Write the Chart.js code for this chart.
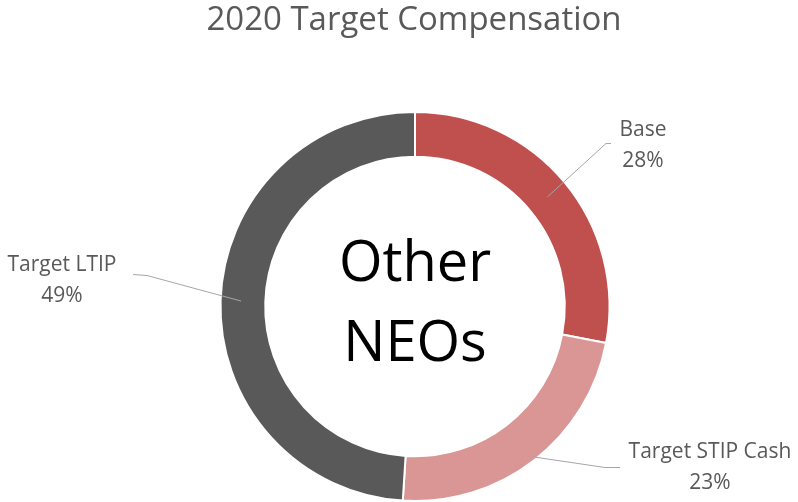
<!DOCTYPE html>
<html>
<head>
<meta charset="utf-8">
<script src="https://cdn.jsdelivr.net/npm/chart.js@4.4.1/dist/chart.umd.min.js"></script>
<style>
  html, body { margin: 0; padding: 0; background: #fff; }
  #wrap { width: 798px; height: 502px; position: relative; }
</style>
</head>
<body>
<div id="wrap"><canvas id="compChart"></canvas></div>
<script>
// Data for the chart
const categories = ["Base", "Target STIP Cash", "Target LTIP"];
const shares = [28, 23, 49];
const sliceColors = ["#c0504d", "#d99694", "#595959"];
const chartTitle = "2020 Target Compensation";
const centerLines = ["Other", "NEOs"];

const FONT = "'Open Sans', sans-serif";
const GREY = "#595959";

// label placement relative to the doughnut centre (text centre, leader points)
const labelSpots = [
  { text: [228, -176], leader: [[196, -163], [191, -163]], r: 172 },
  { text: [295, 146], leader: [[205, 161], [190, 161]], r: 190 },
  { text: [-353, -41], leader: [[-282, -32], [-268, -31]], r: 174 }
];

const extras = {
  id: "extras",
  afterDraw(chart) {
    const ctx = chart.ctx;
    const arcs = chart.getDatasetMeta(0).data;
    const cx = arcs[0].x, cy = arcs[0].y;
    ctx.save();

    // title
    ctx.fillStyle = GREY;
    ctx.textAlign = "center";
    ctx.textBaseline = "middle";
    ctx.font = "33px " + FONT;
    ctx.fillText(chartTitle, 414, 21);

    // centre text
    ctx.fillStyle = "#000";
    ctx.font = "56px " + FONT;
    ctx.fillText(centerLines[0], cx, cy - 41);
    ctx.fillText(centerLines[1], cx, cy + 39);

    // data labels with leader lines
    arcs.forEach((arc, i) => {
      const s = labelSpots[i];
      const a = (arc.startAngle + arc.endAngle) / 2;
      const ax = cx + s.r * Math.cos(a), ay = cy + s.r * Math.sin(a);
      ctx.strokeStyle = "#a6a6a6";
      ctx.lineWidth = 1;
      ctx.beginPath();
      ctx.moveTo(ax, ay);
      ctx.lineTo(cx + s.leader[1][0], cy + s.leader[1][1]);
      ctx.lineTo(cx + s.leader[0][0], cy + s.leader[0][1]);
      ctx.stroke();

      ctx.fillStyle = GREY;
      ctx.font = "21px " + FONT;
      ctx.fillText(categories[i], cx + s.text[0], cy + s.text[1]);
      ctx.fillText(shares[i] + "%", cx + s.text[0], cy + s.text[1] + 31);
    });
    ctx.restore();
  }
};

const config = {
  type: "doughnut",
  data: {
    labels: categories,
    datasets: [{
      data: shares,
      backgroundColor: sliceColors,
      borderColor: "#ffffff",
      borderWidth: 2
    }]
  },
  options: {
    responsive: true,
    maintainAspectRatio: false,
    animation: false,
    cutout: "77%",
    layout: { padding: { top: 111, left: 32, right: 0, bottom: -1 } },
    plugins: {
      legend: { display: false },
      tooltip: { enabled: false }
    }
  },
  plugins: [extras]
};

const compChart = new Chart(document.getElementById("compChart"), config);
</script>
</body>
</html>
